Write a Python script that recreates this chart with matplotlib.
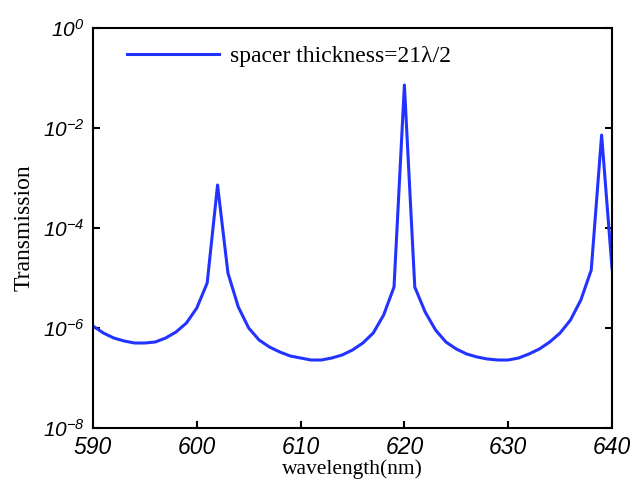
import numpy as np
import matplotlib
matplotlib.use('Agg')
import matplotlib.pyplot as plt
from matplotlib.ticker import FixedLocator, FuncFormatter, NullLocator

# wavelength (nm) and log10(transmission)
wavelength = list(range(590, 641))
log_t = [-5.96, -6.10, -6.20, -6.26, -6.30, -6.30, -6.28, -6.20, -6.08, -5.90,
         -5.60, -5.10, -3.14, -4.90, -5.58, -6.00, -6.24, -6.38, -6.48, -6.56,
         -6.60, -6.64, -6.64, -6.60, -6.54, -6.44, -6.30, -6.10, -5.74, -5.18,
         -1.14, -5.18, -5.68, -6.04, -6.28, -6.42, -6.52, -6.58, -6.62, -6.64,
         -6.64, -6.60, -6.52, -6.42, -6.28, -6.10, -5.84, -5.44, -4.84, -2.14,
         -4.80]
transmission = 10.0 ** np.array(log_t)

x_ticks = [590, 600, 610, 620, 630, 640]
y_ticks = [1e-8, 1e-6, 1e-4, 1e-2, 1e0]
label = 'spacer thickness=21\u03bb/2'

serif = ['Liberation Serif', 'DejaVu Serif']

fig = plt.figure(figsize=(6.44, 4.94), dpi=100)
ax = fig.add_axes([0.1444, 0.1336, 0.8059, 0.8097])

ax.semilogy(wavelength, transmission, color='#2233ff', linewidth=2.2, label=label)
ax.set_xlim(590, 640)
ax.set_ylim(1e-8, 1e0)

ax.xaxis.set_major_locator(FixedLocator(x_ticks))
ax.yaxis.set_major_locator(FixedLocator(y_ticks))
ax.yaxis.set_minor_locator(NullLocator())
ax.xaxis.set_minor_locator(NullLocator())


def fmt_y(v, pos):
    e = int(round(np.log10(v)))
    return '$\\mathdefault{10^{%d}}$' % e


ax.yaxis.set_major_formatter(FuncFormatter(fmt_y))
ax.tick_params(direction='in', length=5, width=1.5, right=True, top=False, pad=6)
for lab in ax.get_xticklabels():
    lab.set_fontfamily('Liberation Sans')
    lab.set_fontstyle('italic')
    lab.set_fontsize(16.5)
for lab in ax.get_yticklabels():
    lab.set_fontfamily('Liberation Sans')
    lab.set_fontstyle('italic')
    lab.set_fontsize(15)
for s in ax.spines.values():
    s.set_linewidth(1.5)

ax.set_xlabel('wavelength(nm)', family=serif, size=15.5, labelpad=0)
ax.set_ylabel('Transmission', family=serif, size=17, labelpad=6)

leg = ax.legend(loc='upper left', frameon=False, prop={'family': serif, 'size': 17},
                handlelength=3.9, handletextpad=0.45, borderaxespad=0.6,
                bbox_to_anchor=(0.02, 1.015))

fig.savefig('out.png', dpi=100)
